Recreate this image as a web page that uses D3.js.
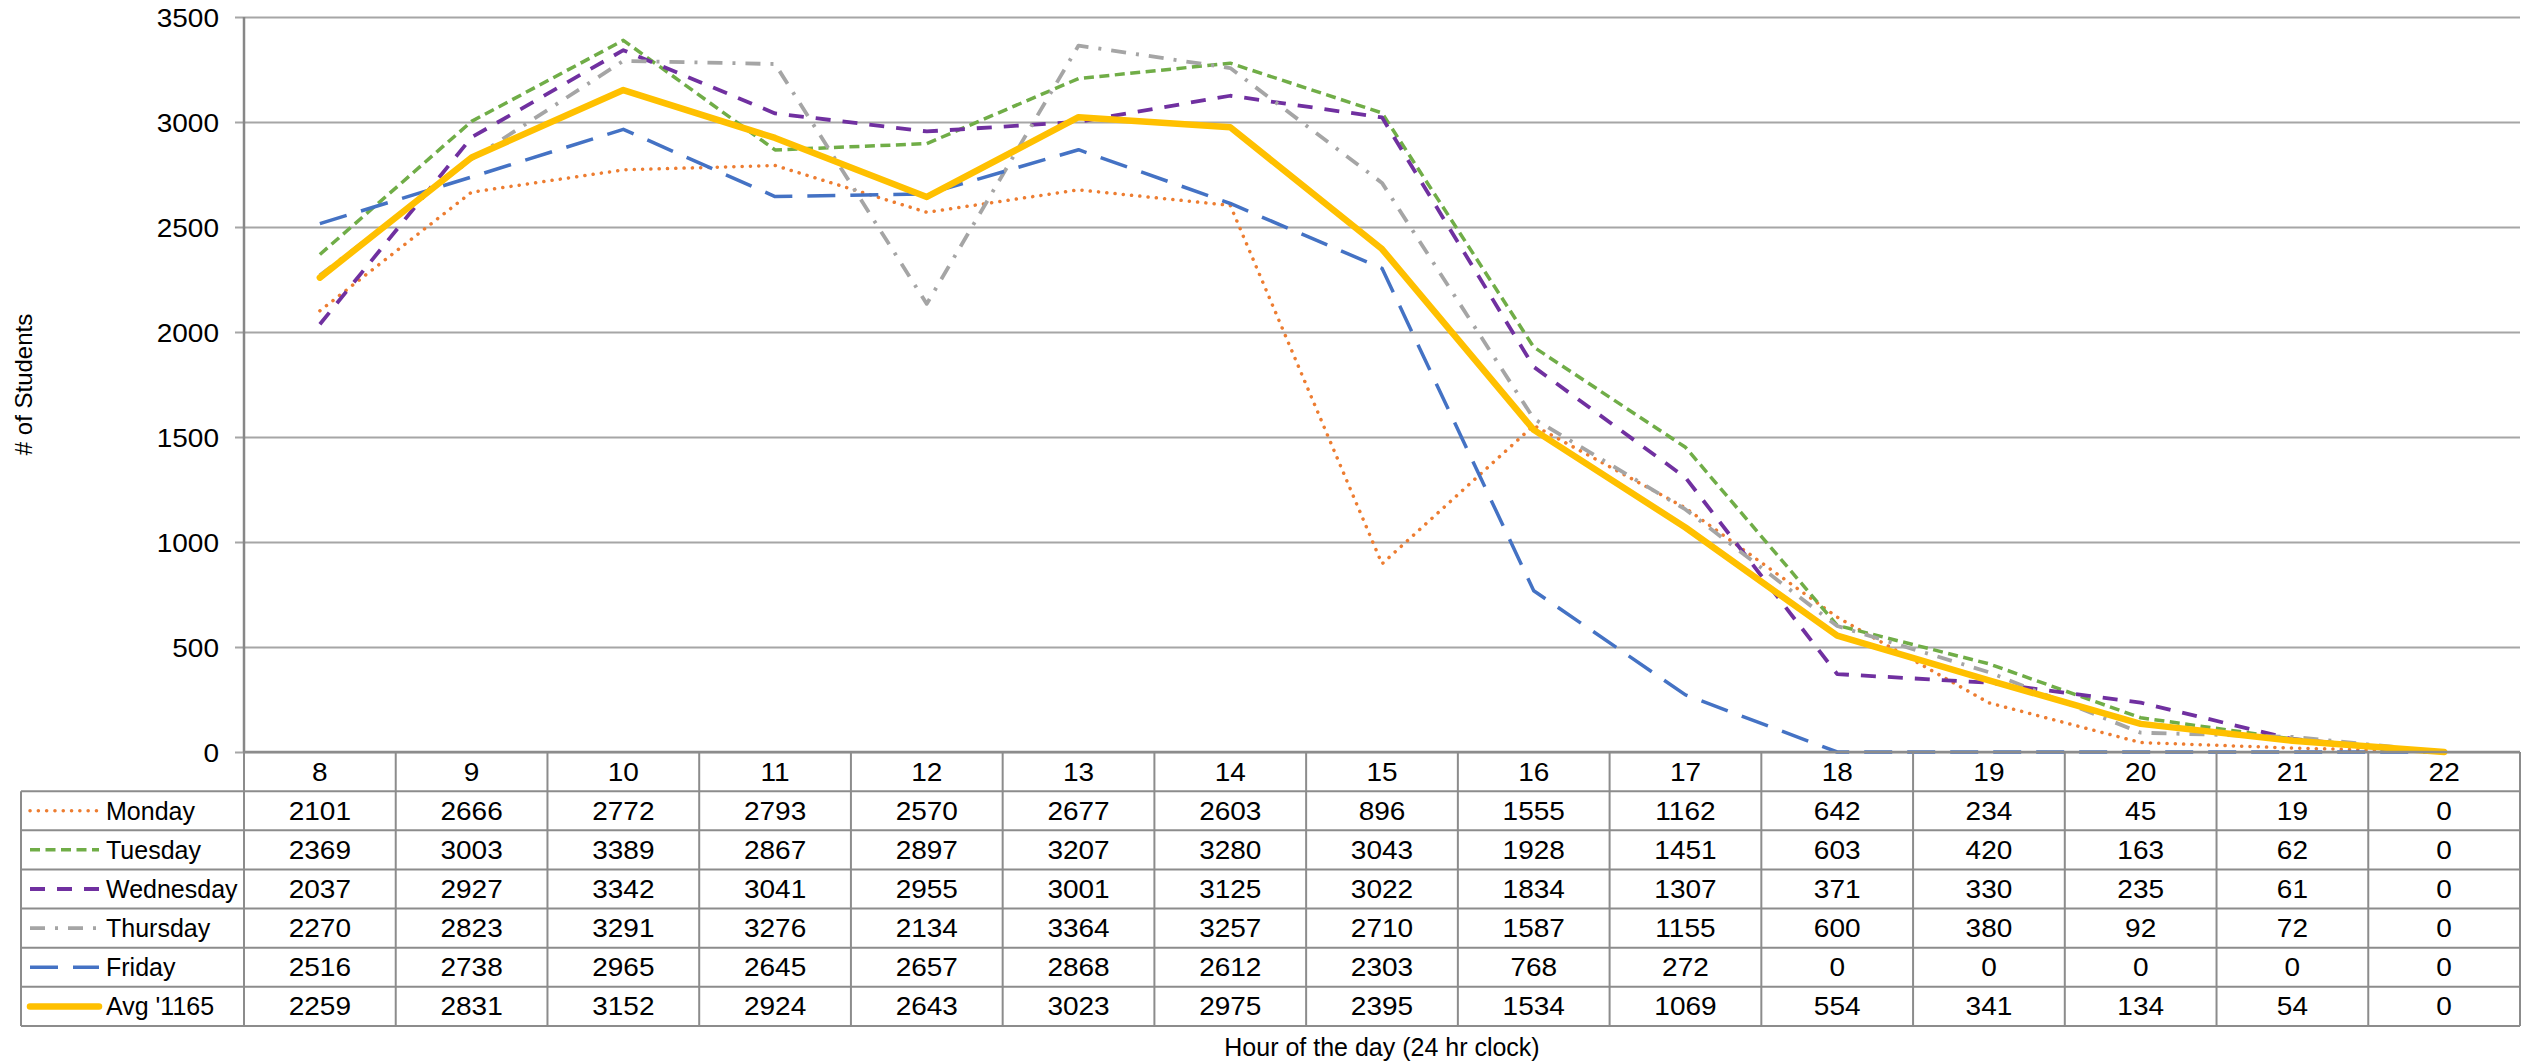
<!DOCTYPE html>
<html>
<head>
<meta charset="utf-8">
<script src="https://cdn.jsdelivr.net/npm/d3@7"></script>
<style>
  html, body { margin: 0; padding: 0; background: #fff; }
  svg { display: block; }
  text { font-family: "Liberation Sans", Arial, sans-serif; fill: #000; }
</style>
</head>
<body>
<svg id="chart" width="2548" height="1062"></svg>
<script>
// ---------- data ----------
const hours = [8, 9, 10, 11, 12, 13, 14, 15, 16, 17, 18, 19, 20, 21, 22];
const seriesNames = ["Monday", "Tuesday", "Wednesday", "Thursday", "Friday", "Avg '1165"];
const monday    = [2101, 2666, 2772, 2793, 2570, 2677, 2603, 896, 1555, 1162, 642, 234, 45, 19, 0];
const tuesday   = [2369, 3003, 3389, 2867, 2897, 3207, 3280, 3043, 1928, 1451, 603, 420, 163, 62, 0];
const wednesday = [2037, 2927, 3342, 3041, 2955, 3001, 3125, 3022, 1834, 1307, 371, 330, 235, 61, 0];
const thursday  = [2270, 2823, 3291, 3276, 2134, 3364, 3257, 2710, 1587, 1155, 600, 380, 92, 72, 0];
const friday    = [2516, 2738, 2965, 2645, 2657, 2868, 2612, 2303, 768, 272, 0, 0, 0, 0, 0];
const avg1165   = [2259, 2831, 3152, 2924, 2643, 3023, 2975, 2395, 1534, 1069, 554, 341, 134, 54, 0];
const yTicks = [0, 500, 1000, 1500, 2000, 2500, 3000, 3500];
const yTitle = "# of Students";
const xTitle = "Hour of the day (24 hr clock)";

(function () {
// ---------- styles ----------
const styles = [
  { color: "#ED7D31", width: 3.5, dash: "0.1,8.2", cap: "round" },
  { color: "#70AD47", width: 3.5, dash: "10,5.5", cap: "butt" },
  { color: "#7030A0", width: 3.8, dash: "15,12", cap: "butt" },
  { color: "#A5A5A5", width: 3.8, dash: "15,10,3,10", cap: "butt" },
  { color: "#4472C4", width: 3.5, dash: "28,15", cap: "butt" },
  { color: "#FFC000", width: 6.5, dash: null, cap: "round" }
];
const allSeries = [monday, tuesday, wednesday, thursday, friday, avg1165];

// ---------- layout ----------
const pLeft = 244, pRight = 2520, pTop = 17, pBottom = 752;
const tableLeft = 21;
const rowH = (1026 - pBottom) / 7;
const gridColor = "#a6a6a6";
const lineColor = "#8c8c8c";
const numStretch = 1.12;
const fs = 25;

const svg = d3.select("#chart");
const x = d3.scaleBand().domain(hours).range([pLeft, pRight]).paddingInner(0).paddingOuter(0);
const y = d3.scaleLinear().domain([0, 3500]).range([pBottom, pTop]);

// gridlines + ticks
const gAxis = svg.append("g").attr("transform", `translate(${pLeft},0)`)
  .call(d3.axisLeft(y).tickValues(yTicks).tickSize(9).tickPadding(16).tickFormat(d3.format("d")));
gAxis.select(".domain").remove();
gAxis.selectAll(".tick line").attr("stroke", gridColor).attr("stroke-width", 2)
  .attr("x1", -9).attr("x2", pRight - pLeft);
gAxis.selectAll(".tick text")
  .style("font-size", fs + "px").style("font-family", "Liberation Sans, Arial, sans-serif").attr("fill", "#000")
  .attr("x", null).attr("dy", null)
  .attr("transform", `translate(-25,0) scale(${numStretch},1)`)
  .attr("y", 9);

// y axis line
svg.append("line").attr("x1", pLeft).attr("x2", pLeft).attr("y1", pTop).attr("y2", pBottom)
  .attr("stroke", "#878787").attr("stroke-width", 2.5);

// ---------- lines ----------
const line = d3.line().x((d, i) => x(hours[i]) + x.bandwidth() / 2).y(d => y(d));
allSeries.forEach((s, k) => {
  const st = styles[k];
  const p = svg.append("path").datum(s)
    .attr("d", line)
    .attr("fill", "none")
    .attr("stroke", st.color)
    .attr("stroke-width", st.width)
    .attr("stroke-linecap", st.cap)
    .attr("stroke-linejoin", "round");
  if (st.dash) p.attr("stroke-dasharray", st.dash);
});

// ---------- data table ----------
const tbl = svg.append("g");
tbl.append("line").attr("x1", pLeft).attr("x2", pRight).attr("y1", pBottom).attr("y2", pBottom)
  .attr("stroke", lineColor).attr("stroke-width", 2.5);
for (let r = 1; r <= 7; r++) {
  const yy = pBottom + r * rowH;
  tbl.append("line").attr("x1", tableLeft).attr("x2", pRight).attr("y1", yy).attr("y2", yy)
    .attr("stroke", lineColor).attr("stroke-width", 2);
}
hours.forEach(h => {
  tbl.append("line").attr("x1", x(h)).attr("x2", x(h)).attr("y1", pBottom).attr("y2", pBottom + 7 * rowH)
    .attr("stroke", lineColor).attr("stroke-width", 2);
});
tbl.append("line").attr("x1", pRight).attr("x2", pRight).attr("y1", pBottom).attr("y2", pBottom + 7 * rowH)
  .attr("stroke", lineColor).attr("stroke-width", 2);
tbl.append("line").attr("x1", tableLeft).attr("x2", tableLeft).attr("y1", pBottom + rowH).attr("y2", pBottom + 7 * rowH)
  .attr("stroke", lineColor).attr("stroke-width", 2);

function numText(g, cx, base, v) {
  g.append("text").attr("transform", `translate(${cx},${base}) scale(${numStretch},1)`)
    .attr("text-anchor", "middle").style("font-size", fs + "px").text(v);
}
hours.forEach(h => numText(tbl, x(h) + x.bandwidth() / 2, pBottom + rowH / 2 + 9, h));
allSeries.forEach((s, k) => {
  const cy = pBottom + (k + 1) * rowH + rowH / 2;
  const st = styles[k];
  const key = tbl.append("line").attr("x1", 30).attr("x2", 99).attr("y1", cy).attr("y2", cy)
    .attr("stroke", st.color).attr("stroke-width", st.width).attr("stroke-linecap", st.cap);
  if (st.dash) key.attr("stroke-dasharray", st.dash);
  tbl.append("text").attr("x", 106).attr("y", cy + 9).style("font-size", fs + "px").text(seriesNames[k]);
  s.forEach((v, i) => numText(tbl, x(hours[i]) + x.bandwidth() / 2, cy + 9, v));
});

svg.append("text").attr("transform", `translate(32,${(pTop + pBottom) / 2}) rotate(-90)`)
  .attr("text-anchor", "middle").style("font-size", "24px").text(yTitle);
svg.append("text").attr("x", (pLeft + pRight) / 2).attr("y", 1056)
  .attr("text-anchor", "middle").style("font-size", "25px").text(xTitle);
})();
</script>
</body>
</html>
